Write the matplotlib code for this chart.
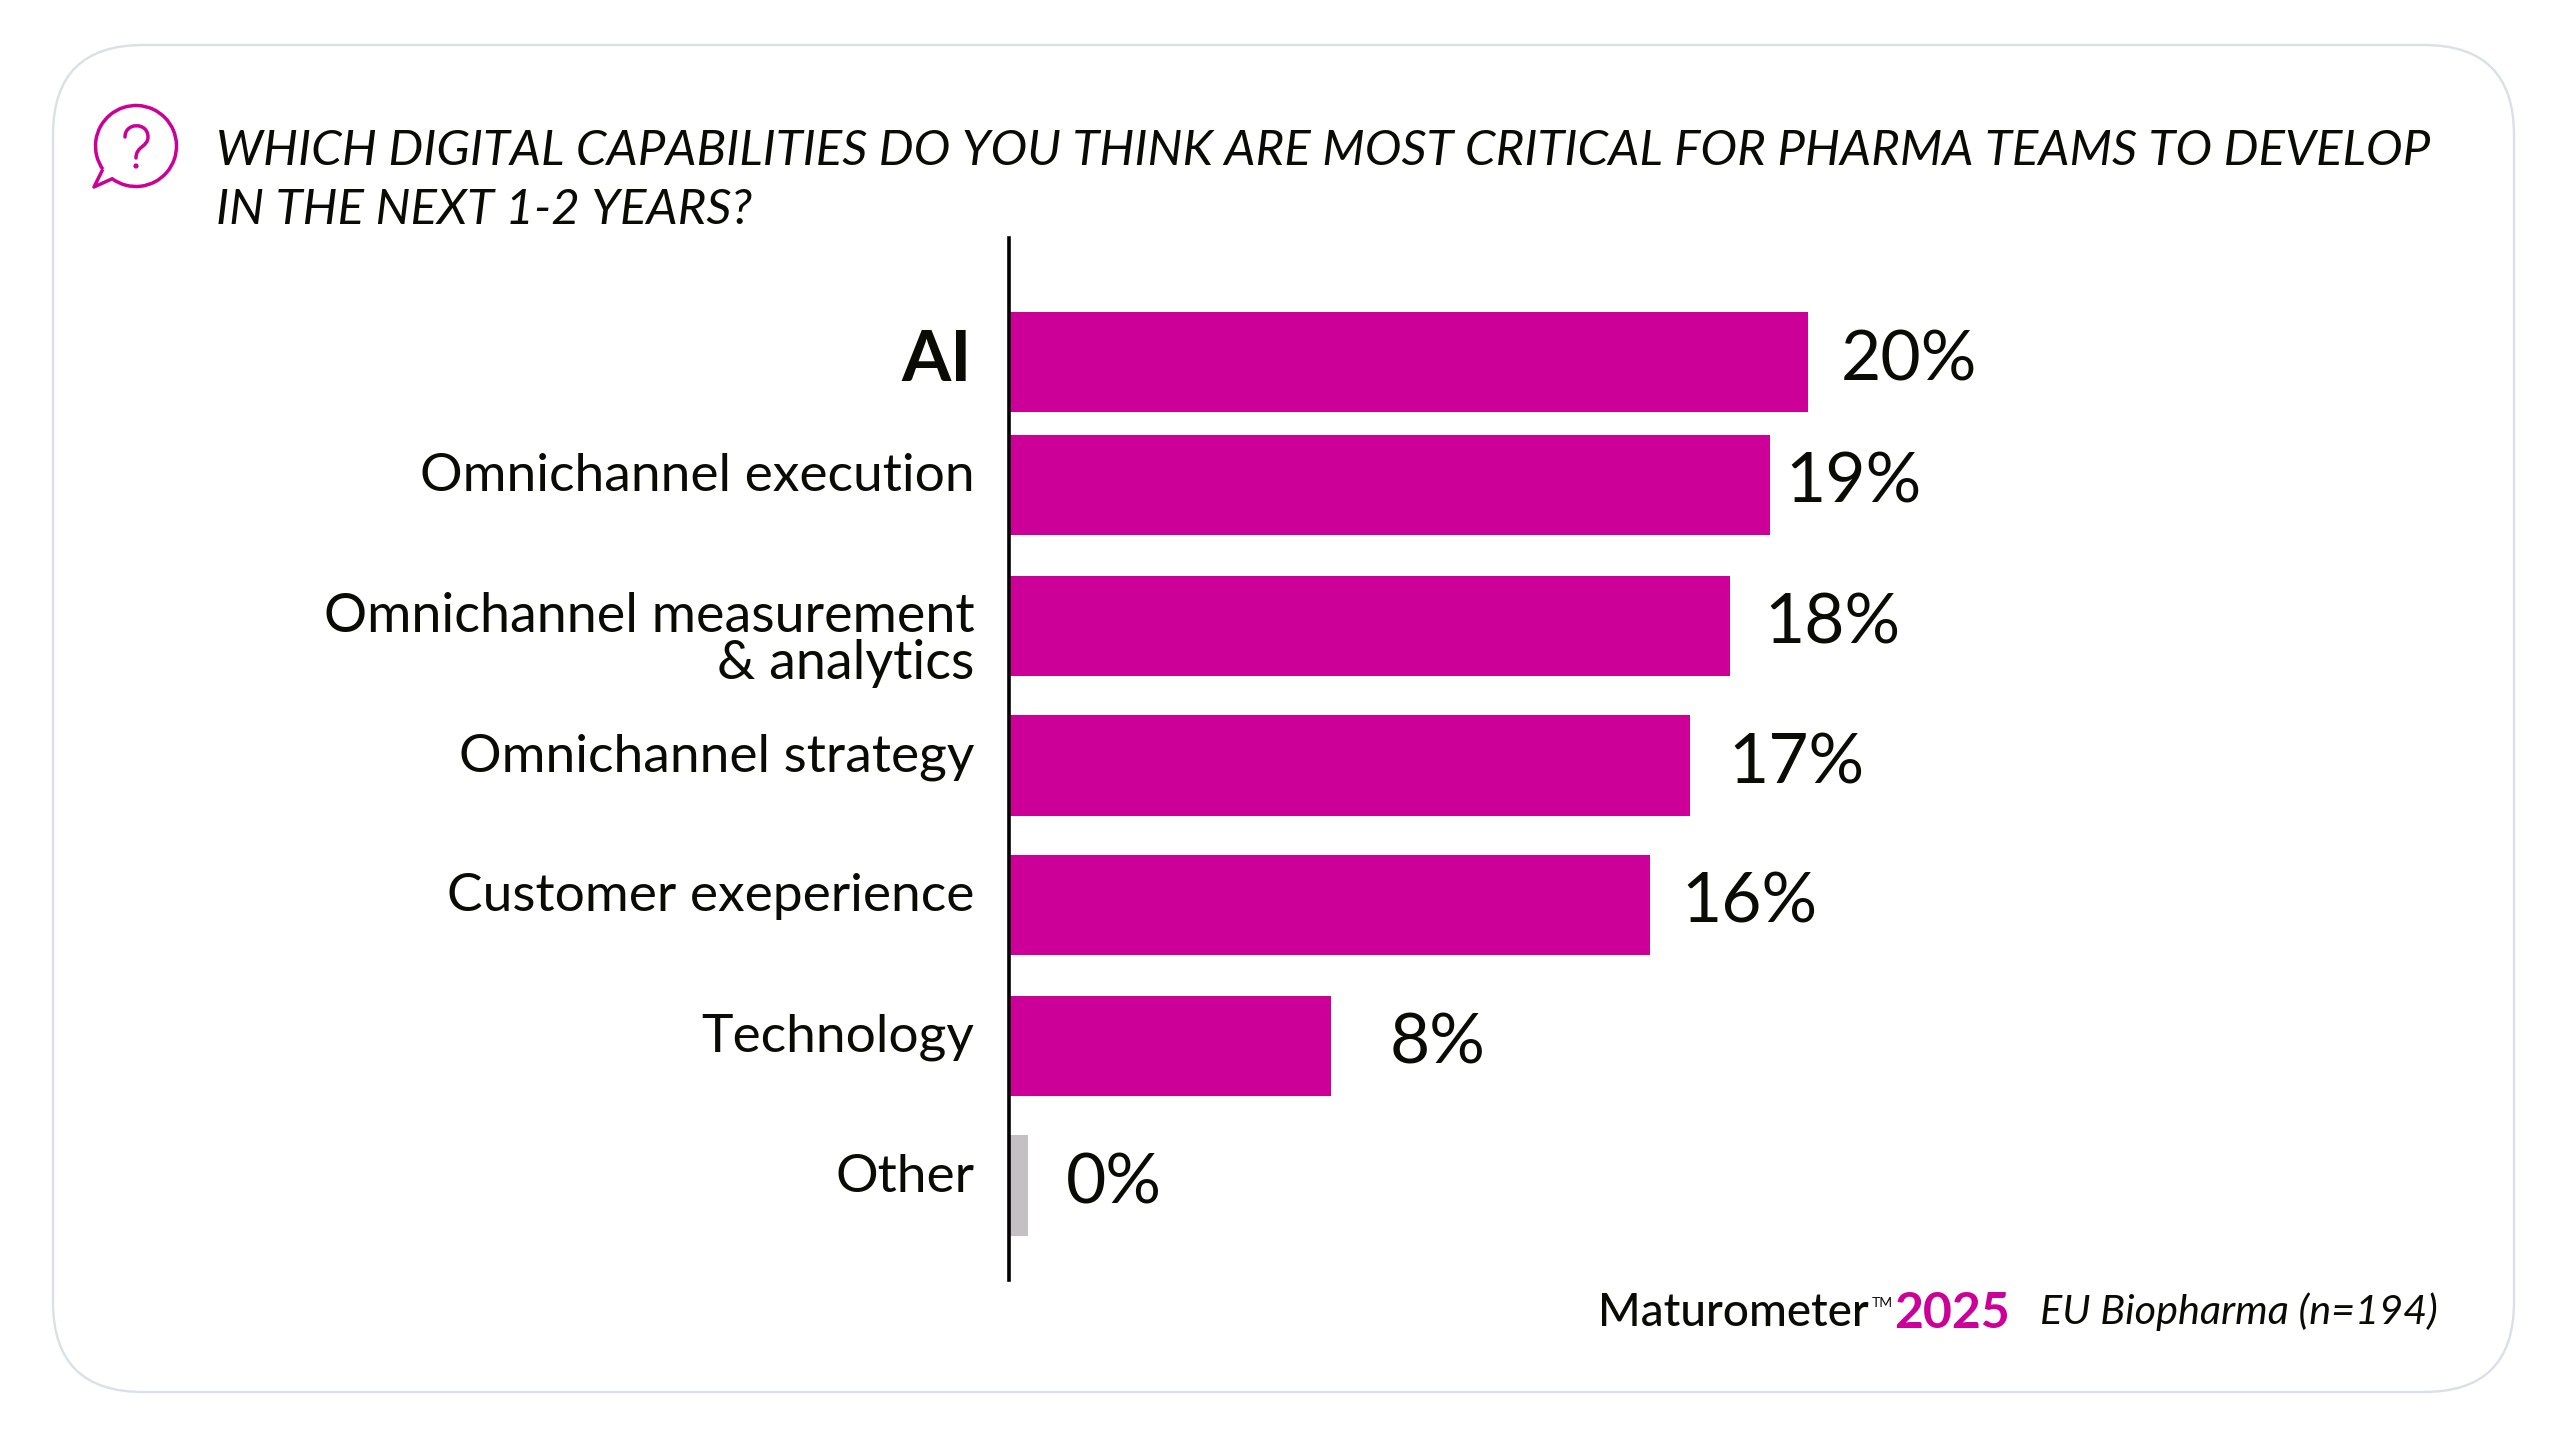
#!/usr/bin/env python
"""Digital capabilities bar chart, Maturometer 2025."""

import matplotlib
matplotlib.use("Agg")
import matplotlib.pyplot as plt
import numpy as np
from matplotlib.patches import Circle, FancyBboxPatch, PathPatch
from matplotlib.path import Path
from matplotlib.transforms import Affine2D

W, H = 2572, 1444
MAGENTA = "#CC0099"
GREY = "#C4C0C4"
INK = "#0B0B06"
FONT = "Lato"

categories = ["AI", "Omnichannel execution", "Omnichannel measurement\n& analytics",
              "Omnichannel strategy", "Customer exeperience", "Technology", "Other"]
values = [20, 19.05, 18.05, 17.05, 16.05, 8.05, 0.47]
value_labels = ["20%", "19%", "18%", "17%", "16%", "8%", "0%"]

# layout only: rows are not evenly spaced in the original
rows = [0, 0.88, 1.89, 2.89, 3.89, 4.90, 5.90]
label_gaps = [33, 15, 34, 38, 31, 59, 38]
bar_colors = [MAGENTA] * 6 + [GREY]

plt.rcParams["font.family"] = [FONT, "DejaVu Sans"]
fig = plt.figure(figsize=(W / 100, H / 100), dpi=100, facecolor="white")

# --- background layer in pixel coordinates ---
bg = fig.add_axes([0, 0, 1, 1])
bg.set_xlim(0, W)
bg.set_ylim(H, 0)
bg.axis("off")
bg.add_patch(FancyBboxPatch((53 + 90, 45 + 90), 2514 - 53 - 180, 1392 - 45 - 180,
                            boxstyle="round,pad=90,rounding_size=90",
                            fc="white", ec="#DAE0E6", lw=1.7))

# speech bubble icon: open arc closed by the tail
cx, cy, r = 136, 146, 40.5
arc = Path.arc(145, 486).transformed(Affine2D().scale(r).translate(cx, cy))
verts = np.vstack([arc.vertices, [(94, 187)], [arc.vertices[0]]])
codes = list(arc.codes) + [Path.LINETO, Path.LINETO]
bg.add_patch(PathPatch(Path(verts, codes), fc="none", ec=MAGENTA, lw=2.5, joinstyle="round"))
question = Path([(125, 137), (125, 122), (148, 122), (148, 137), (148, 147), (136, 146), (136, 158)],
                [Path.MOVETO, Path.CURVE4, Path.CURVE4, Path.CURVE4, Path.CURVE4, Path.CURVE4, Path.CURVE4])
bg.add_patch(PathPatch(question, fc="none", ec=MAGENTA, lw=2.5, capstyle="round"))
bg.add_patch(Circle((136, 166), 2.6, fc=MAGENTA, ec="none"))

# title
bg.text(216, 151, "WHICH DIGITAL CAPABILITIES DO YOU THINK ARE MOST CRITICAL FOR PHARMA TEAMS TO DEVELOP",
        fontsize=35.5, style="italic", color=INK, va="center", ha="left")
bg.text(216, 210, "IN THE NEXT 1-2 YEARS?",
        fontsize=35.5, style="italic", color=INK, va="center", ha="left")

# footer
bg.text(1598, 1313, "Maturometer", fontsize=33, color=INK, va="center", ha="left", weight="medium")
bg.text(1872, 1303, "TM", fontsize=10, color=INK, va="center", ha="left")
bg.text(1894, 1313, "2025", fontsize=36, color=MAGENTA, va="center", ha="left", weight="bold")
bg.text(2040, 1312, "EU Biopharma (n=194)", fontsize=29.8, style="italic", color=INK,
        va="center", ha="left")

# --- chart ---
x0, x1 = 1009 / W, 2069 / W
y_top, y_bot = 238 / H, 1280 / H
ax = fig.add_axes([x0, 1 - y_bot, x1 - x0, y_bot - y_top])
ax.patch.set_alpha(0)
ax.barh(rows, values, height=0.72, color=bar_colors)
ax.set_xlim(0, 1060 / (486 * 1.6445 / 20))
row_px = 139.55
ax.set_ylim((1280 - 362) / row_px, -(362 - 238) / row_px)

for s in ["top", "right", "bottom"]:
    ax.spines[s].set_visible(False)
ax.spines["left"].set_linewidth(2.6)
ax.spines["left"].set_color("black")
ax.set_xticks([])
ax.set_yticks([])

for i, (cat, v, lab, r, gap) in enumerate(zip(categories, values, value_labels, rows, label_gaps)):
    ax.annotate(lab, (v, r), xytext=(gap * 0.72, 1), textcoords="offset points",
                fontsize=50, color=INK, va="center", ha="left")
    if i == 0:
        ax.annotate(cat, (0, r), xytext=(-27, 1), textcoords="offset points",
                    fontsize=51, weight="bold", color=INK, va="center", ha="right")
    elif "\n" in cat:
        ax.annotate(cat, (0, r), xytext=(-25, -10), textcoords="offset points",
                    fontsize=38.8, color=INK, va="center", ha="right", linespacing=0.95,
                    multialignment="right")
    else:
        ax.annotate(cat, (0, r), xytext=(-25, 6), textcoords="offset points",
                    fontsize=38.4, color=INK, va="center", ha="right")

fig.savefig("out.png", dpi=100, facecolor="white")
